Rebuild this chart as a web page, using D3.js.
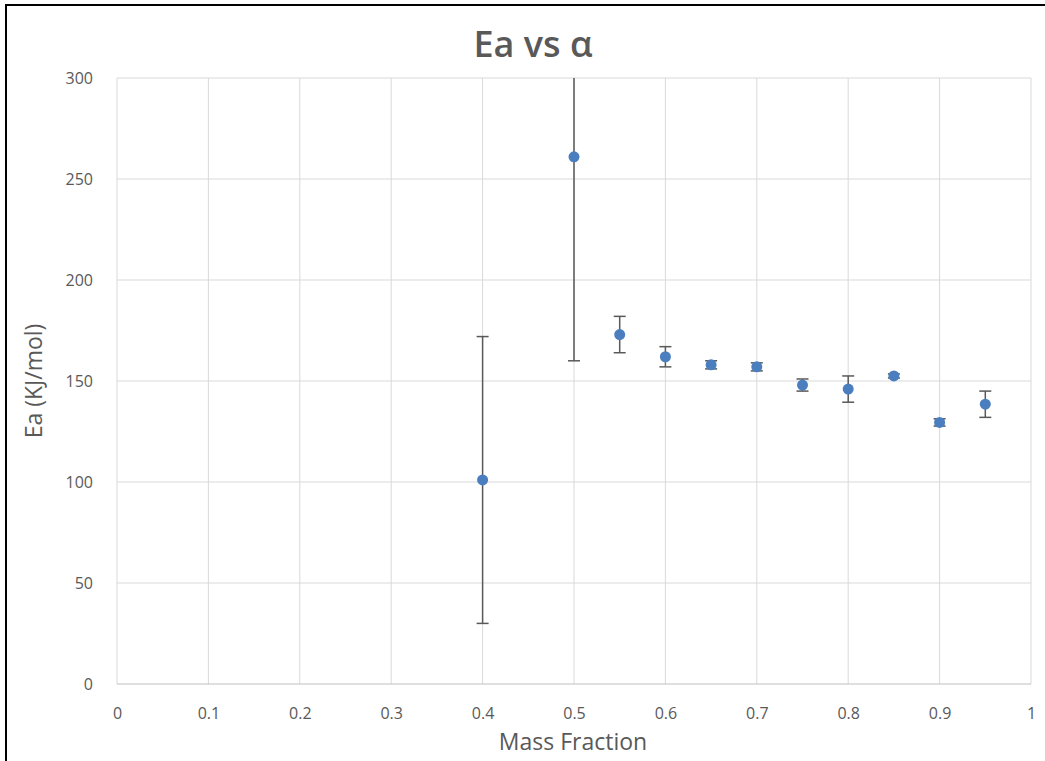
<!DOCTYPE html>
<html>
<head>
<meta charset="utf-8">
<script src="https://cdn.jsdelivr.net/npm/d3@7"></script>
<style>
  html, body { margin: 0; padding: 0; background: #fff; }
  svg { display: block; }
  text { font-family: "Open Sans", "Noto Sans", sans-serif; fill: #595959; }
</style>
</head>
<body>
<svg id="chart" width="1045" height="761"></svg>
<script>
const massFraction = [0.4, 0.5, 0.55, 0.6, 0.65, 0.7, 0.75, 0.8, 0.85, 0.9, 0.95];
const eaValues     = [101, 261, 173, 162, 158, 157, 148, 146, 152.5, 129.5, 138.5];
const eaErrors     = [71, 101, 9, 5, 2, 2, 3, 6.5, 1, 1.8, 6.5];
const xTicks = [0, 0.1, 0.2, 0.3, 0.4, 0.5, 0.6, 0.7, 0.8, 0.9, 1];
const yTicks = [0, 50, 100, 150, 200, 250, 300];

const svg = d3.select("#chart");
const W = 1045, H = 761;
const m = { left: 117, right: 1031, top: 78, bottom: 684 };

const x = d3.scaleLinear().domain([0, 1]).range([m.left, m.right]);
const y = d3.scaleLinear().domain([0, 300]).range([m.bottom, m.top]);

// outer frame (top and left edges visible)
svg.append("line").attr("x1", 5).attr("x2", W).attr("y1", 5).attr("y2", 5)
  .attr("stroke", "#000").attr("stroke-width", 2);
svg.append("line").attr("x1", 6).attr("x2", 6).attr("y1", 4).attr("y2", H)
  .attr("stroke", "#000").attr("stroke-width", 2);

// gridlines
const grid = svg.append("g");
grid.selectAll(".vg").data(xTicks).enter().append("line")
  .attr("x1", d => x(d)).attr("x2", d => x(d))
  .attr("y1", y(300)).attr("y2", y(0))
  .attr("stroke", "#d9d9d9").attr("stroke-width", 1);
grid.selectAll(".hg").data(yTicks).enter().append("line")
  .attr("x1", x(0)).attr("x2", x(1))
  .attr("y1", d => y(d)).attr("y2", d => y(d))
  .attr("stroke", d => d === 0 ? "#bfbfbf" : "#d9d9d9").attr("stroke-width", 1);

// axes labels via d3 axes
const xAxis = d3.axisBottom(x).tickValues(xTicks).tickSize(0).tickPadding(24)
  .tickFormat(d => d3.format("")(d));
const gx = svg.append("g").attr("transform", `translate(0,${y(0)})`).call(xAxis);
gx.select(".domain").remove();
gx.selectAll("text").attr("font-size", 16).attr("fill", "#595959")
  .style("font-family", '"Open Sans", "Noto Sans", sans-serif');

const yAxis = d3.axisLeft(y).tickValues(yTicks).tickSize(0).tickPadding(24);
const gy = svg.append("g").attr("transform", `translate(${x(0)},0)`).call(yAxis);
gy.select(".domain").remove();
gy.selectAll("text").attr("font-size", 16).attr("fill", "#595959")
  .style("font-family", '"Open Sans", "Noto Sans", sans-serif');

// title
svg.append("text").attr("x", 533).attr("y", 57)
  .attr("text-anchor", "middle").attr("font-size", 36).attr("font-weight", 600)
  .text("Ea vs α");

// axis titles
svg.append("text").attr("x", 573).attr("y", 750)
  .attr("text-anchor", "middle").attr("font-size", 23).text("Mass Fraction");
svg.append("text").attr("transform", `translate(42,${(m.top + m.bottom) / 2}) rotate(-90)`)
  .attr("text-anchor", "middle").attr("font-size", 23).text("Ea (KJ/mol)");

// error bars (clipped to plot area)
svg.append("clipPath").attr("id", "plotclip").append("rect")
  .attr("x", m.left - 10).attr("y", m.top).attr("width", m.right - m.left + 20).attr("height", m.bottom - m.top + 10);
const data = massFraction.map((v, i) => ({ x: v, y: eaValues[i], e: eaErrors[i] }));
const eb = svg.append("g").attr("clip-path", "url(#plotclip)");
const cap = 6;
eb.selectAll(".stem").data(data).enter().append("line")
  .attr("x1", d => x(d.x)).attr("x2", d => x(d.x))
  .attr("y1", d => y(d.y + d.e)).attr("y2", d => y(d.y - d.e))
  .attr("stroke", "#595959").attr("stroke-width", 1.5);
eb.selectAll(".capTop").data(data.filter(d => d.y + d.e <= 300)).enter().append("line")
  .attr("x1", d => x(d.x) - cap).attr("x2", d => x(d.x) + cap)
  .attr("y1", d => y(d.y + d.e)).attr("y2", d => y(d.y + d.e))
  .attr("stroke", "#595959").attr("stroke-width", 1.5);
eb.selectAll(".capBot").data(data).enter().append("line")
  .attr("x1", d => x(d.x) - cap).attr("x2", d => x(d.x) + cap)
  .attr("y1", d => y(d.y - d.e)).attr("y2", d => y(d.y - d.e))
  .attr("stroke", "#595959").attr("stroke-width", 1.5);

// markers
svg.append("g").selectAll("circle").data(data).enter().append("circle")
  .attr("cx", d => x(d.x)).attr("cy", d => y(d.y)).attr("r", 5.5)
  .attr("fill", "#4a7ebf");
</script>
</body>
</html>
